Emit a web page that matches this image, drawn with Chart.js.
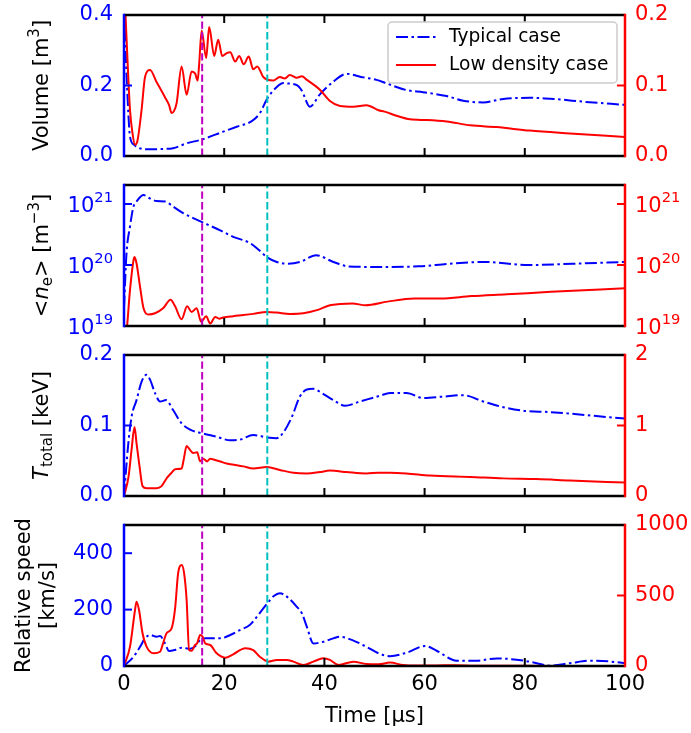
<!DOCTYPE html>
<html>
<head>
<meta charset="utf-8">
<script src="https://cdn.jsdelivr.net/npm/chart.js@4/dist/chart.umd.min.js"></script>
<style>
  html, body { margin: 0; padding: 0; background: #fff; }
  #fig { position: relative; width: 691px; height: 733px; }
  #fig canvas { position: absolute; left: 0; display: block; }
</style>
</head>
<body>
<div id="fig">
  <canvas id="pVol" width="691" height="170" style="top:0px"></canvas>
  <canvas id="pNe" width="691" height="170" style="top:170px"></canvas>
  <canvas id="pTemp" width="691" height="170" style="top:340px"></canvas>
  <canvas id="pSpeed" width="691" height="223" style="top:510px"></canvas>
</div>
<script>
// ---- shared axis values ----
const timeTicks = [0, 20, 40, 60, 80, 100];
const eventTimes = [15.6, 28.6];
const seriesLabels = ['Typical case', 'Low density case'];

// ---- plasma volume [m^3] ----
const volTypicalT = [0, 0.6, 1.2, 2.0, 2.5, 4.5, 7.8, 9.8, 12.5, 15.6, 19.8, 22.5, 25.5, 27.1, 28.6, 30.5, 31.8, 32.5, 34.5, 35.5, 37.1, 39.1, 41.8, 44.4, 47.8, 50.4, 52.4, 56.4, 59.7, 64.4, 67.7, 71.7, 75.7, 81.0, 86.4, 91.7, 100];
const volTypical  = [0.42, 0.2, 0.055, 0.032, 0.026, 0.019, 0.020, 0.022, 0.036, 0.047, 0.069, 0.083, 0.099, 0.121, 0.163, 0.196, 0.207, 0.206, 0.201, 0.185, 0.140, 0.175, 0.211, 0.233, 0.223, 0.216, 0.206, 0.187, 0.181, 0.170, 0.157, 0.152, 0.162, 0.165, 0.161, 0.154, 0.145];
const volLowT = [0, 0.3, 0.8, 1.2, 1.7, 2.2, 2.7, 3.5, 4.2, 5.2, 6.5, 8.2, 9.0, 9.5, 10.0, 10.5, 11.5, 12.5, 13.5, 14.2, 14.7, 15.0, 15.5, 16.4, 17.0, 18.0, 18.8, 19.6, 20.5, 21.2, 22.2, 23.0, 23.9, 24.9, 25.8, 26.6, 27.8, 29.8, 31.1, 32.1, 33.1, 34.5, 35.5, 36.5, 39.1, 41.1, 43.1, 45.8, 48.4, 50.8, 52.0, 54.4, 57.1, 60.4, 64.4, 69.1, 74.4, 81.0, 89.0, 100];
const volLow  = [0.25, 0.2, 0.12, 0.065, 0.032, 0.016, 0.022, 0.065, 0.112, 0.122, 0.105, 0.083, 0.072, 0.061, 0.064, 0.075, 0.127, 0.087, 0.120, 0.117, 0.107, 0.13, 0.178, 0.139, 0.183, 0.142, 0.165, 0.142, 0.146, 0.147, 0.134, 0.142, 0.130, 0.141, 0.123, 0.127, 0.112, 0.107, 0.112, 0.110, 0.115, 0.111, 0.113, 0.108, 0.094, 0.078, 0.071, 0.070, 0.072, 0.065, 0.063, 0.057, 0.052, 0.051, 0.049, 0.0435, 0.041, 0.036, 0.032, 0.027];
const volTicksL = [0, 0.2, 0.4];
const volTicksR = [0, 0.1, 0.2];

// ---- mean electron density [m^-3] ----
const neTypicalT = [0, 0.5, 1.2, 1.9, 2.5, 3.9, 5.2, 6.5, 8.2, 9.8, 11.8, 15.5, 19.2, 21.8, 25.1, 26.8, 28.5, 30.5, 32.8, 35.1, 38.3, 41.8, 44.8, 50.0, 58.8, 64.9, 72.0, 80.8, 89.6, 100];
const neTypical  = [2.0e19, 1.55e20, 4.3e20, 9.1e20, 1.1e21, 1.4e21, 1.23e21, 1.12e21, 1.1e21, 9.1e20, 7.1e20, 5.1e20, 3.7e20, 2.9e20, 2.3e20, 1.8e20, 1.35e20, 1.12e20, 1.05e20, 1.12e20, 1.45e20, 1.12e20, 9.5e19, 9.3e19, 9.5e19, 1.05e20, 1.12e20, 1.0e20, 1.05e20, 1.12e20];
const neLowT = [0, 0.5, 1.2, 1.9, 2.1, 2.5, 3.2, 3.9, 4.9, 6.2, 7.8, 9.3, 10.2, 11.5, 12.6, 13.5, 14.5, 15.4, 16.4, 17.2, 18.2, 19.0, 19.8, 21.8, 23.8, 25.8, 28.5, 30.5, 33.1, 35.8, 38.5, 41.1, 43.1, 45.6, 48.2, 52.6, 57.9, 63.2, 69.3, 76.4, 85.2, 100];
const neLow  = [5e18, 8e18, 3.9e19, 1.2e20, 1.35e20, 1.07e20, 4.4e19, 1.95e19, 1.55e19, 1.62e19, 1.95e19, 2.7e19, 2.1e19, 1.29e19, 2.1e19, 1.7e19, 1.95e19, 1.17e19, 1.45e19, 1.1e19, 1.41e19, 1.32e19, 1.38e19, 1.45e19, 1.51e19, 1.58e19, 1.7e19, 1.66e19, 1.58e19, 1.62e19, 1.82e19, 2.19e19, 2.29e19, 2.34e19, 2.19e19, 2.51e19, 2.82e19, 2.82e19, 3.09e19, 3.31e19, 3.63e19, 4.17e19];
const neTicks = [1e19, 1e20, 1e21];

// ---- total temperature [keV] ----
const tempTypicalT = [0, 0.8, 1.5, 2.5, 3.5, 4.5, 5.2, 6.2, 7.2, 8.4, 9.8, 11.5, 13.2, 15.6, 18.5, 21.2, 23.2, 25.8, 28.6, 30.5, 31.8, 33.5, 35.1, 36.5, 37.8, 39.5, 41.8, 44.1, 47.1, 51.0, 53.1, 56.4, 59.7, 63.7, 67.7, 71.7, 75.7, 79.7, 85.0, 90.4, 95.7, 100];
const tempTypical  = [0.0, 0.07, 0.112, 0.136, 0.162, 0.172, 0.165, 0.146, 0.134, 0.136, 0.122, 0.103, 0.094, 0.089, 0.084, 0.079, 0.080, 0.0865, 0.083, 0.082, 0.090, 0.112, 0.141, 0.151, 0.152, 0.146, 0.136, 0.128, 0.134, 0.142, 0.146, 0.146, 0.139, 0.141, 0.143, 0.134, 0.126, 0.121, 0.119, 0.116, 0.1125, 0.110];
const tempLowT = [0, 0.9, 1.5, 2.1, 2.5, 3.1, 3.7, 4.5, 6.5, 7.5, 8.5, 9.5, 10.2, 11.5, 11.9, 12.5, 13.2, 13.8, 14.6, 15.2, 15.8, 16.6, 17.2, 18.2, 19.2, 20.5, 22.2, 23.8, 25.8, 28.5, 31.1, 33.8, 36.5, 39.1, 41.1, 44.4, 48.4, 50.8, 53.1, 56.4, 61.1, 69.1, 75.7, 82.4, 89.0, 100];
const tempLow  = [0, 0.27, 0.65, 0.98, 0.75, 0.42, 0.14, 0.11, 0.11, 0.14, 0.25, 0.33, 0.38, 0.39, 0.51, 0.71, 0.65, 0.61, 0.62, 0.49, 0.53, 0.49, 0.53, 0.51, 0.49, 0.46, 0.44, 0.42, 0.39, 0.41, 0.37, 0.33, 0.32, 0.34, 0.36, 0.34, 0.32, 0.33, 0.33, 0.32, 0.29, 0.27, 0.25, 0.24, 0.22, 0.19];
const tempTicksL = [0, 0.1, 0.2];
const tempTicksR = [0, 1, 2];

// ---- relative speed [km/s] ----
const speedTypicalT = [0, 1.9, 3.2, 4.2, 5.2, 6.5, 7.2, 8.2, 9.0, 10.2, 11.5, 13.2, 14.2, 15.2, 16.2, 19.2, 21.2, 23.2, 25.1, 26.8, 28.6, 29.9, 31.1, 32.5, 34.5, 35.5, 36.5, 37.8, 39.8, 41.8, 43.1, 45.8, 48.4, 50.8, 53.1, 56.4, 60.1, 62.4, 66.4, 70.4, 74.4, 79.7, 82.4, 85.0, 89.0, 93.0, 97.0, 100];
const speedTypical  = [0, 33, 68, 98, 110, 104, 106, 80, 53, 57, 65, 61, 70, 92, 98, 98, 110, 128, 145, 181, 222, 248, 258, 246, 210, 187, 139, 80, 86, 98, 104, 90, 68, 45, 35, 47, 71, 54, 19, 19, 27, 19, 10, 1, 10, 19, 16, 10];
const speedLowT = [0, 1.2, 2.2, 2.5, 3.0, 3.7, 4.5, 5.9, 7.2, 7.8, 8.5, 9.5, 10.2, 10.8, 11.5, 12.0, 12.5, 13.0, 13.5, 14.2, 14.6, 15.2, 15.7, 16.2, 17.2, 18.5, 20.2, 21.8, 24.2, 25.8, 27.1, 28.8, 30.5, 32.5, 33.8, 35.8, 37.8, 39.8, 41.1, 42.8, 45.8, 48.4, 50.8, 53.1, 55.7, 58.4, 62.4, 66.0, 70.0, 80.0, 90.0, 100];
const speedLow  = [0, 137, 397, 456, 397, 232, 137, 90, 101, 161, 232, 267, 409, 657, 716, 657, 468, 113, 109, 149, 161, 220, 208, 161, 149, 90, 59, 83, 126, 113, 66, 31, 43, 43, 31, 7, 31, 55, 43, 7, 31, 14, 12, 24, 7, 3, 4, 6, 2, 1, 0, 0];
const speedTicksL = [0, 200, 400];
const speedTicksR = [0, 500, 1000];

// ---- styling ----
Chart.defaults.font.family = '"DejaVu Sans", sans-serif';
Chart.defaults.font.size = 21;
Chart.defaults.color = '#000';

const BLUE = '#0000ff', RED = '#ff0000';
const eventColors = ['#bf00bf', '#00bfbf'];
const DASHDOT = [12, 3.5, 2.5, 3.5];
const LEFT_W = 124, RIGHT_W = 66;
const FONT = '"DejaVu Sans"';
const f = (size, style) => (style ? style + ' ' : '') + size + 'px ' + FONT;

const toPoints = (ts, vs) => ts.map((t, i) => ({ x: t, y: vs[i] }));

function curve(label, ts, vs, axis, color, dash, order) {
  return {
    label, data: toPoints(ts, vs), yAxisID: axis, xAxisID: 'x',
    borderColor: color, borderWidth: 2, borderDash: dash,
    pointRadius: 0, fill: false, cubicInterpolationMode: 'monotone', order
  };
}

function eventLines(lo, hi) {
  return eventTimes.map((t, i) => ({
    data: [{ x: t, y: lo }, { x: t, y: hi }], yAxisID: 'yL', xAxisID: 'x',
    borderColor: eventColors[i], borderWidth: 2, borderDash: [7.4, 3.2],
    pointRadius: 0, fill: false, tension: 0, order: 0
  }));
}

function yAxis(pos, type, min, max, tickVals, color, fmt) {
  return {
    type, position: pos, min, max,
    grid: { display: false, drawTicks: false },
    border: { display: false },
    ticks: { color, padding: pos === 'left' ? 11 : 10, callback: fmt, autoSkip: false, display: !!fmt },
    afterBuildTicks: s => { s.ticks = tickVals.map(v => ({ value: v })); },
    afterFit: s => {
      s.width = pos === 'left' ? LEFT_W : RIGHT_W;
      s.paddingTop = 0; s.paddingBottom = 0;
    }
  };
}

// spines in the axis colours, inward tick marks, and 10^n labels for log axes
function framePlugin(cfg) {
  return {
    id: 'frame',
    afterDatasetsDraw(chart) {
      const { ctx, chartArea: a, scales } = chart;
      const seg = (x1, y1, x2, y2) => { ctx.beginPath(); ctx.moveTo(x1, y1); ctx.lineTo(x2, y2); ctx.stroke(); };
      const len = 8;
      ctx.save();
      ctx.setLineDash([]);
      ctx.lineWidth = 2;
      ctx.strokeStyle = '#000';
      timeTicks.forEach(v => {
        const x = scales.x.getPixelForValue(v);
        seg(x, a.top, x, a.top + len);
        seg(x, a.bottom, x, a.bottom - len);
      });
      ctx.strokeStyle = BLUE;
      cfg.ticksL.forEach(v => { const y = scales.yL.getPixelForValue(v); seg(a.left, y, a.left + len, y); });
      ctx.strokeStyle = RED;
      cfg.ticksR.forEach(v => { const y = scales.yR.getPixelForValue(v); seg(a.right, y, a.right - len, y); });
      ctx.lineWidth = 2.5;
      ctx.strokeStyle = '#000';
      seg(a.left, a.top, a.right, a.top);
      seg(a.left, a.bottom, a.right, a.bottom);
      ctx.strokeStyle = BLUE;
      seg(a.left, a.top - 1.25, a.left, a.bottom + 1.25);
      ctx.strokeStyle = RED;
      seg(a.right, a.top - 1.25, a.right, a.bottom + 1.25);

      if (cfg.powerTicks) {
        ctx.textBaseline = 'middle';
        const drawPow = (scale, v, side, color) => {
          const y = scale.getPixelForValue(v);
          const base = '10', exp = String(Math.round(Math.log10(v)));
          ctx.font = f(21); const wb = ctx.measureText(base).width;
          ctx.font = f(14.7); const we = ctx.measureText(exp).width;
          const x0 = side === 'left' ? a.left - 11 - wb - we : a.right + 10;
          ctx.fillStyle = color;
          ctx.textAlign = 'left';
          ctx.font = f(21); ctx.fillText(base, x0, y + 3);
          ctx.font = f(14.7); ctx.fillText(exp, x0 + wb, y - 6);
        };
        cfg.powerTicks.forEach(v => {
          drawPow(scales.yL, v, 'left', BLUE);
          drawPow(scales.yR, v, 'right', RED);
        });
      }
      ctx.restore();
    }
  };
}

// rotated y-axis title made of runs with mixed fonts (italic, sub/superscripts)
function yTitlePlugin(lines, x0, gap) {
  return {
    id: 'yTitle',
    afterDraw(chart) {
      const { ctx, chartArea: a } = chart;
      const yc = (a.top + a.bottom) / 2;
      lines.forEach((runs, i) => {
        ctx.save();
        ctx.translate(x0 + i * gap, yc);
        ctx.rotate(-Math.PI / 2);
        ctx.textBaseline = 'middle';
        ctx.fillStyle = '#000';
        let total = 0;
        runs.forEach(r => { ctx.font = r.font; total += ctx.measureText(r.text).width; });
        let cx = -total / 2;
        runs.forEach(r => {
          ctx.font = r.font;
          ctx.fillText(r.text, cx, r.dy || 0);
          cx += ctx.measureText(r.text).width;
        });
        ctx.restore();
      });
    }
  };
}

// framed legend in the upper right of the volume panel
const boxLegend = {
  id: 'boxLegend',
  afterDraw(chart) {
    const ctx = chart.ctx;
    const items = chart.data.datasets.filter(d => d.label)
      .sort((p, q) => seriesLabels.indexOf(p.label) - seriesLabels.indexOf(q.label));
    const bx = 388, by = 22, bw = 229, bh = 61, r = 4;
    ctx.save();
    ctx.beginPath();
    ctx.moveTo(bx + r, by);
    ctx.arcTo(bx + bw, by, bx + bw, by + bh, r);
    ctx.arcTo(bx + bw, by + bh, bx, by + bh, r);
    ctx.arcTo(bx, by + bh, bx, by, r);
    ctx.arcTo(bx, by, bx + bw, by, r);
    ctx.closePath();
    ctx.fillStyle = 'rgba(255,255,255,0.8)';
    ctx.fill();
    ctx.lineWidth = 1.5;
    ctx.strokeStyle = '#cccccc';
    ctx.stroke();
    items.forEach((d, i) => {
      const y = 37 + i * 28;
      ctx.beginPath();
      ctx.setLineDash(d.borderDash || []);
      ctx.lineWidth = d.borderWidth;
      ctx.strokeStyle = d.borderColor;
      ctx.moveTo(396, y);
      ctx.lineTo(436, y);
      ctx.stroke();
      ctx.setLineDash([]);
      ctx.font = f(18.6);
      ctx.fillStyle = '#000';
      ctx.textBaseline = 'middle';
      ctx.fillText(d.label, 449, y);
    });
    ctx.restore();
  }
};

function panel(id, cfg) {
  const bottom = !!cfg.xTitle;
  const xScale = bottom ? {
    type: 'linear', min: 0, max: 100, position: 'bottom',
    grid: { display: false, drawTicks: false },
    border: { display: false },
    ticks: { padding: 6, maxRotation: 0, autoSkip: false },
    afterBuildTicks: s => { s.ticks = timeTicks.map(v => ({ value: v })); },
    afterFit: s => { s.height = 67; s.paddingLeft = 0; s.paddingRight = 0; },
    title: { display: true, text: cfg.xTitle, font: { size: 21 }, padding: { top: 0, bottom: 4 } }
  } : { type: 'linear', min: 0, max: 100, display: false };

  const plugins = [framePlugin(cfg), yTitlePlugin(cfg.title, cfg.titleX, cfg.titleGap || 0)];
  if (cfg.legend) plugins.push(boxLegend);

  return new Chart(document.getElementById(id), {
    type: 'line',
    data: { datasets: cfg.datasets },
    options: {
      responsive: false,
      animation: false,
      events: [],
      layout: { padding: { top: 15, bottom: bottom ? 0 : 14, left: 0, right: 0 } },
      plugins: { legend: { display: false }, tooltip: { enabled: false } },
      scales: { x: xScale, yL: cfg.yL, yR: cfg.yR }
    },
    plugins
  });
}

const fmt1 = v => Number(v).toFixed(1);
const fmt0 = v => String(v);

panel('pVol', {
  datasets: [
    ...eventLines(0, 1),
    curve(seriesLabels[1], volLowT, volLow, 'yR', RED, [], 1),
    curve(seriesLabels[0], volTypicalT, volTypical, 'yL', BLUE, DASHDOT, 2)
  ],
  yL: yAxis('left', 'linear', 0, 0.4, volTicksL, BLUE, fmt1),
  yR: yAxis('right', 'linear', 0, 0.2, volTicksR, RED, fmt1),
  ticksL: volTicksL, ticksR: volTicksR,
  title: [[{ text: 'Volume [m', font: f(21) }, { text: '3', font: f(15), dy: -8 }, { text: ']', font: f(21) }]],
  titleX: 43,
  legend: true
});

panel('pNe', {
  datasets: [
    ...eventLines(1e19, 1e22),
    curve(seriesLabels[1], neLowT, neLow, 'yR', RED, [], 1),
    curve(seriesLabels[0], neTypicalT, neTypical, 'yL', BLUE, DASHDOT, 2)
  ],
  yL: yAxis('left', 'logarithmic', 1e19, 2.05e21, neTicks, BLUE, null),
  yR: yAxis('right', 'logarithmic', 1e19, 2.05e21, neTicks, RED, null),
  ticksL: neTicks, ticksR: neTicks, powerTicks: neTicks,
  title: [[
    { text: '<', font: f(21) }, { text: 'n', font: f(21, 'italic') }, { text: 'e', font: f(15), dy: 5 },
    { text: '> [m', font: f(21) }, { text: '−3', font: f(15), dy: -8 }, { text: ']', font: f(21) }
  ]],
  titleX: 43
});

panel('pTemp', {
  datasets: [
    ...eventLines(0, 1),
    curve(seriesLabels[1], tempLowT, tempLow, 'yR', RED, [], 1),
    curve(seriesLabels[0], tempTypicalT, tempTypical, 'yL', BLUE, DASHDOT, 2)
  ],
  yL: yAxis('left', 'linear', 0, 0.2, tempTicksL, BLUE, fmt1),
  yR: yAxis('right', 'linear', 0, 2, tempTicksR, RED, fmt0),
  ticksL: tempTicksL, ticksR: tempTicksR,
  title: [[{ text: 'T', font: f(21, 'italic') }, { text: 'total', font: f(15), dy: 5 }, { text: ' [keV]', font: f(21) }]],
  titleX: 43
});

panel('pSpeed', {
  datasets: [
    ...eventLines(0, 1000),
    curve(seriesLabels[1], speedLowT, speedLow, 'yR', RED, [], 1),
    curve(seriesLabels[0], speedTypicalT, speedTypical, 'yL', BLUE, DASHDOT, 2)
  ],
  yL: yAxis('left', 'linear', 0, 500, speedTicksL, BLUE, fmt0),
  yR: yAxis('right', 'linear', 0, 1000, speedTicksR, RED, fmt0),
  ticksL: speedTicksL, ticksR: speedTicksR,
  title: [[{ text: 'Relative speed', font: f(21) }], [{ text: '[km/s]', font: f(21) }]],
  titleX: 25, titleGap: 24,
  xTitle: 'Time [μs]'
});
</script>
</body>
</html>
